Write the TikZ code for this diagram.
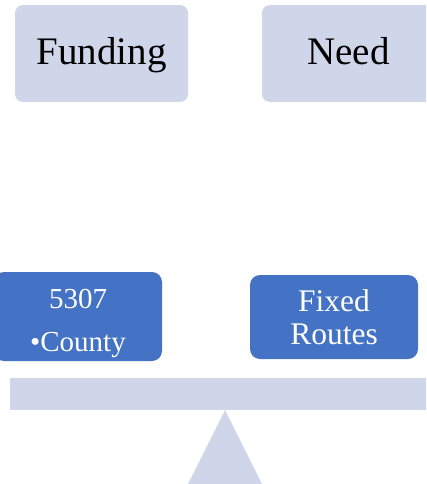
\documentclass[tikz,border=0pt]{standalone}
\usepackage{fontspec}
\setmainfont{Liberation Serif}
\definecolor{palebox}{RGB}{208,214,234}
\definecolor{bluebox}{RGB}{68,114,196}
\tikzset{
  topbox/.style={fill=palebox, rounded corners=8pt, minimum width=173pt, minimum height=97pt, font=\fontsize{39}{42}\selectfont, inner sep=0pt, text height=27pt, text depth=4pt},
  panbox/.style={fill=bluebox, text=white, rounded corners=10pt, inner sep=0pt, align=center}
}
\begin{document}
\begin{tikzpicture}[x=1pt,y=-1pt]
\useasboundingbox (0,0) rectangle (426,484);
\clip (0,0) rectangle (426,484);
\node[topbox] (fund) at (101.5,53.5) {Funding};
\node[topbox] (need) at (348.5,53.5) {Need};
\node[panbox, minimum width=168pt, minimum height=89pt, font=\fontsize{29}{34}\selectfont] (cnty) at (78,316.5) {\rule{0pt}{34pt}5307\\[9pt]\textbullet County};
\node[panbox, minimum width=168pt, minimum height=84pt, font=\fontsize{31.5}{33}\selectfont] (route) at (334,317) {Fixed\\Routes};
\fill[palebox] (10,378) rectangle (440,410);
\fill[palebox] (225,410) -- (262,484) -- (188,484) -- cycle;
\end{tikzpicture}
\end{document}
